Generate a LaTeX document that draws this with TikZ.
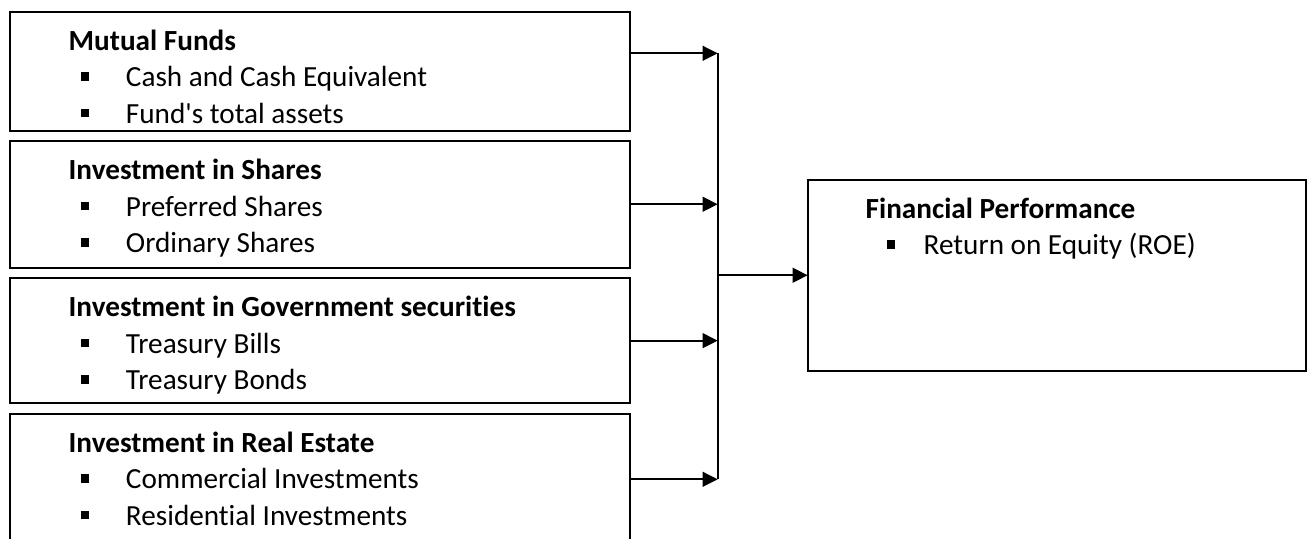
\documentclass[tikz,border=0pt]{standalone}
\usepackage{fontspec}
\setmainfont[Ligatures=NoCommon]{Carlito}
\usetikzlibrary{arrows.meta, positioning}

\newcommand{\bul}[1]{\makebox[58pt][l]{\hspace*{#1}\raisebox{3pt}{\rule{4.2pt}{4.2pt}}}}
\newcommand{\panel}[3]{\begin{minipage}[c][#2][t]{#1}\fontsize{14.6pt}{18.25pt}\selectfont\rule{0pt}{19.25pt}#3\end{minipage}}

\begin{document}
\begin{tikzpicture}[
  x=0.5pt, y=0.5pt,
  node distance=5.25pt,
  box/.style={rectangle, draw=black, line width=1pt, inner sep=0pt, outer sep=0pt},
  arr/.style={-{Triangle[length=7.5pt, width=7.3pt]}, line width=1.1pt}
]
  \useasboundingbox (0,0) rectangle (1307,538);

  \node[box, anchor=north west] (mf) at (10,526.5)
    {\panel{310pt}{59.5pt}{\hspace*{29.35pt}\textbf{Mutual Funds}\\
     \bul{35.35pt}Cash and Cash Equivalent\\
     \bul{35.35pt}Fund\textquotesingle s total assets}};
  \node[box, below=of mf] (is)
    {\panel{310pt}{63.25pt}{\hspace*{29.35pt}\textbf{Investment in Shares}\\
     \bul{35.35pt}Preferred Shares\\
     \bul{35.35pt}Ordinary Shares}};
  \node[box, below=of is] (gs)
    {\panel{310pt}{62.65pt}{\hspace*{29.35pt}\textbf{Investment in Government securities}\\
     \bul{35.35pt}Treasury Bills\\
     \bul{35.35pt}Treasury Bonds}};
  \node[box, below=of gs] (re)
    {\panel{310pt}{65.5pt}{\hspace*{29.35pt}\textbf{Investment in Real Estate}\\
     \bul{35.35pt}Commercial Investments\\
     \bul{35.35pt}Residential Investments}};
  \node[box, anchor=north west] (fp) at (807.7,358.5)
    {\panel{248.9pt}{95.75pt}{\hspace*{29pt}\textbf{Financial Performance}\\
     \bul{39.5pt}Return on Equity (ROE)}};

  % collecting line
  \coordinate (bus) at (717.7,0);
  \coordinate (mfout) at ([yshift=8.85pt]mf.east);

  \draw[arr] (mfout)   -- (mfout -| bus);
  \draw[arr] (is.east) -- (is.east -| bus);
  \draw[arr] (gs.east) -- (gs.east -| bus);
  \draw[arr] (re.east) -- (re.east -| bus);
  \draw[line width=1.1pt] (mfout -| bus) -- (re.east -| bus);
  \draw[arr] (fp.west -| bus) -- (fp.west);
\end{tikzpicture}
\end{document}
